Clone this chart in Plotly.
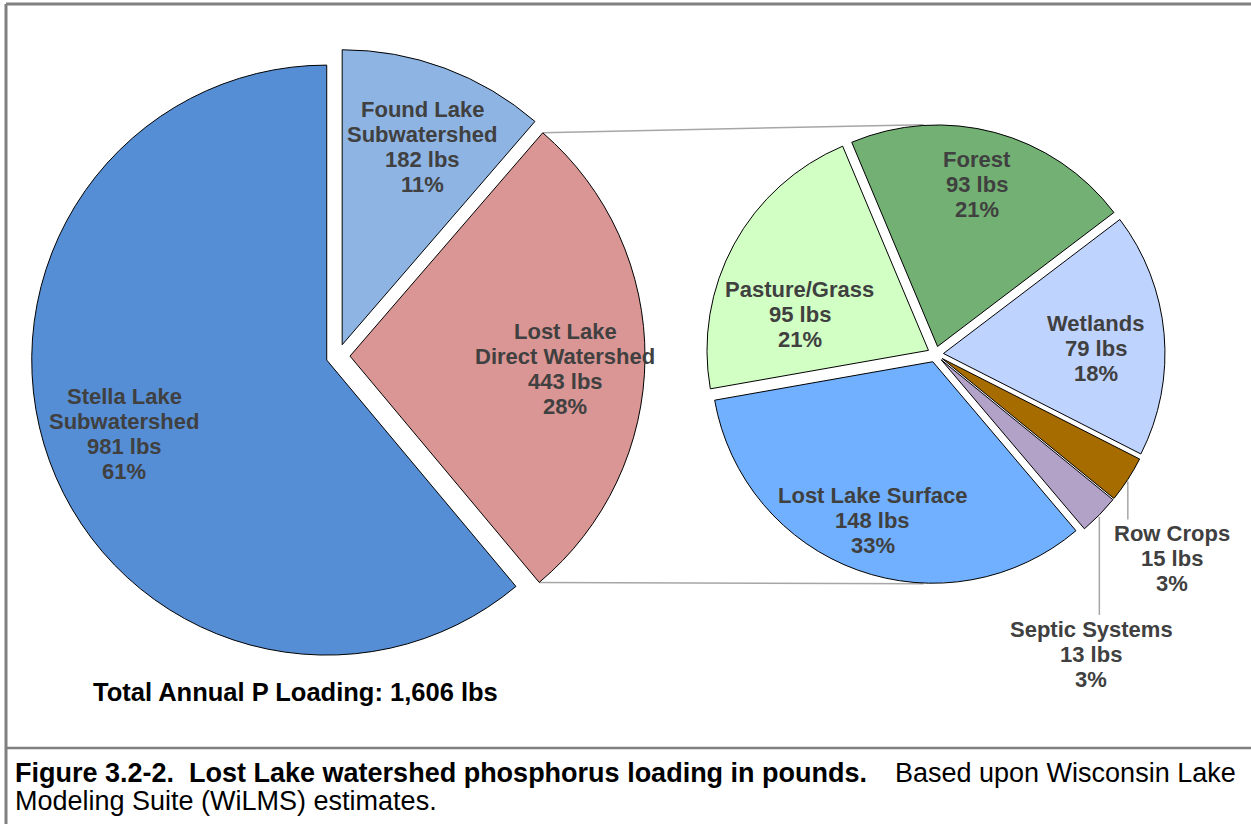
import math
import plotly.graph_objects as go

W, H = 1251, 824

# ---------------- data ----------------
main_names = ["Stella Lake Subwatershed", "Lost Lake Direct Watershed", "Found Lake Subwatershed"]
main_label_lines = [["Stella Lake", "Subwatershed"], ["Lost Lake", "Direct Watershed"], ["Found Lake", "Subwatershed"]]
main_lbs = [981, 443, 182]
main_pct = [61, 28, 11]

sub_names = ["Pasture/Grass", "Lost Lake Surface", "Septic Systems", "Row Crops", "Wetlands", "Forest"]
sub_lbs = [95, 148, 13, 15, 79, 93]
sub_pct = [21, 33, 3, 3, 18, 21]

caption_bold = "Figure 3.2-2.\u00a0\u00a0Lost Lake watershed phosphorus loading in pounds."
caption_rest1 = "Based upon Wisconsin Lake"
caption_line2 = "Modeling Suite (WiLMS) estimates."

# ---------------- style / layout ----------------
main_colors = ["#558ED5", "#D99694", "#8EB4E3"]
sub_colors = ["#D2FFC4", "#70B0FF", "#B3A2C7", "#A66C00", "#BFD3FF", "#72B073"]
FONT = "Liberation Sans, Arial, sans-serif"
LABEL_COLOR = "#404040"

# left pie geometry (pixels)
L_CX, L_CY, L_R, L_P = 338.0, 356.0, 295.0, 12.0
L_START = 90.0  # math degrees, counterclockwise
# right pie geometry (pixels)
R_CX, R_CY, R_R, R_P = 935.5, 354.2, 221.5, 8.0
R_START = 112.8

LINE_H = 25.0
LABEL_SIZE = 22


def px(x, y):
    return x / W, 1 - y / H


def domain(cx, cy, r, p):
    half = r + p
    return dict(x=[(cx - half) / W, (cx + half) / W], y=[1 - (cy + half) / H, 1 - (cy - half) / H])


def slice_angles(vals, start):
    tot = float(sum(vals))
    out = []
    a = start
    for v in vals:
        span = 360.0 * v / tot
        out.append((a, a + span))
        a += span
    return out


def plotly_rotation(vals, start):
    # plotly (counterclockwise) puts the first slice between rotation and rotation+span (clockwise from 12)
    first_span = 360.0 * vals[0] / float(sum(vals))
    return 90.0 - start - first_span


fig = go.Figure()
fig.add_trace(go.Pie(
    labels=main_names, values=main_lbs, sort=False, direction="counterclockwise",
    rotation=plotly_rotation(main_lbs, L_START), pull=L_P / L_R,
    marker=dict(colors=main_colors, line=dict(color="#000000", width=1)),
    textinfo="none", hoverinfo="skip", showlegend=False,
    domain=domain(L_CX, L_CY, L_R, L_P),
))
fig.add_trace(go.Pie(
    labels=sub_names, values=sub_lbs, sort=False, direction="counterclockwise",
    rotation=plotly_rotation(sub_lbs, R_START), pull=R_P / R_R,
    marker=dict(colors=sub_colors, line=dict(color="#000000", width=1)),
    textinfo="none", hoverinfo="skip", showlegend=False,
    domain=domain(R_CX, R_CY, R_R, R_P),
))

annotations = []
shapes = []


def add_label(lines, x, y, color=LABEL_COLOR, size=LABEL_SIZE, bold=True):
    n = len(lines)
    for i, t in enumerate(lines):
        ax, ay = px(x, y + (i - (n - 1) / 2.0) * LINE_H)
        annotations.append(dict(
            x=ax, y=ay, xref="paper", yref="paper", xanchor="center", yanchor="middle",
            text=("<b>%s</b>" % t) if bold else t, showarrow=False,
            font=dict(family=FONT, size=size, color=color)))


# labels of the left pie
main_ang = slice_angles(main_lbs, L_START)
main_k = [0.73, 0.73, 0.73]
main_nudge = [(0, 0), (0, 11), (5, 4)]
for (a0, a1), lines, lb, pc, k, (dx, dy) in zip(main_ang, main_label_lines, main_lbs, main_pct, main_k, main_nudge):
    m = math.radians((a0 + a1) / 2)
    x = L_CX + (L_P + k * L_R) * math.cos(m) + dx
    y = L_CY - (L_P + k * L_R) * math.sin(m) + dy
    add_label(lines + ["%d lbs" % lb, "%d%%" % pc], x, y)

# labels of the right pie
sub_ang = slice_angles(sub_lbs, R_START)
inside_k = {"Pasture/Grass": 0.62, "Lost Lake Surface": 0.76, "Wetlands": 0.69, "Forest": 0.75}
nudge = {"Pasture/Grass": (-8, 30), "Lost Lake Surface": (-3, 0), "Wetlands": (0, 9), "Forest": (-4, -1)}
outside = {"Row Crops": (44, 40, 14.5), "Septic Systems": (-8, 100, 15)}  # (dx, leader drop, gap)
for (a0, a1), name, lb, pc in zip(sub_ang, sub_names, sub_lbs, sub_pct):
    m = math.radians((a0 + a1) / 2)
    lines = [name, "%d lbs" % lb, "%d%%" % pc]
    if name in inside_k:
        k = inside_k[name]
        dx, dy = nudge[name]
        x = R_CX + (R_P + k * R_R) * math.cos(m) + dx
        y = R_CY - (R_P + k * R_R) * math.sin(m) + dy
        add_label(lines, x, y)
    else:
        dx, drop, gap = outside[name]
        sx = R_CX + (R_P + R_R) * math.cos(m)
        sy = R_CY - (R_P + R_R) * math.sin(m)
        ex, ey = px(sx, sy + drop)
        bx, by = px(sx, sy + 2)
        shapes.append(dict(type="line", xref="paper", yref="paper", x0=bx, y0=by, x1=ex, y1=ey,
                           line=dict(color="#A6A6A6", width=1.5)))
        add_label(lines, sx + dx, sy + drop + gap + LINE_H)

# connector lines between the pies (from Lost Lake Direct slice corners)
a0, a1 = main_ang[1]
mm = math.radians((a0 + a1) / 2)
ox = L_CX + L_P * math.cos(mm)
oy = L_CY - L_P * math.sin(mm)
for a, sign in ((a1, -1), (a0, 1)):
    cx = ox + L_R * math.cos(math.radians(a))
    cy = oy - L_R * math.sin(math.radians(a))
    tx = R_CX - 12
    ty = R_CY + sign * (R_R + R_P)
    x0, y0 = px(cx, cy)
    x1, y1 = px(tx, ty)
    shapes.append(dict(type="line", xref="paper", yref="paper", x0=x0, y0=y0, x1=x1, y1=y1,
                       line=dict(color="#A6A6A6", width=1.5), layer="below"))

# total
total = sum(main_lbs)
tx, ty = px(295, 692)
annotations.append(dict(x=tx, y=ty, xref="paper", yref="paper", xanchor="center", yanchor="middle",
                        text="<b>Total Annual P Loading: %s lbs</b>" % format(total, ","), showarrow=False,
                        font=dict(family=FONT, size=25.5, color="#000000")))

# caption
CAP = 27
cx0, cy1 = px(13, 773)
annotations.append(dict(x=cx0, y=cy1, xref="paper", yref="paper", xanchor="left", yanchor="middle",
                        text="<b>%s</b>" % caption_bold, showarrow=False,
                        font=dict(family=FONT, size=CAP, color="#000000")))
cx1, _ = px(1238, 773)
annotations.append(dict(x=cx1, y=cy1, xref="paper", yref="paper", xanchor="right", yanchor="middle",
                        text=caption_rest1, showarrow=False,
                        font=dict(family=FONT, size=CAP, color="#000000")))
_, cy2 = px(13, 801)
annotations.append(dict(x=cx0, y=cy2, xref="paper", yref="paper", xanchor="left", yanchor="middle",
                        text=caption_line2, showarrow=False,
                        font=dict(family=FONT, size=CAP, color="#000000")))

# frame
frame_c = "#808080"
for (x0, y0, x1, y1, w) in [(6, 4, 1251, 4, 3), (6, 4, 6, 824, 3), (6, 748, 1251, 748, 2.5)]:
    a, b = px(x0, y0)
    c, d = px(x1, y1)
    shapes.append(dict(type="line", xref="paper", yref="paper", x0=a, y0=b, x1=c, y1=d,
                       line=dict(color=frame_c, width=w)))

fig.update_layout(
    width=W, height=H, margin=dict(l=0, r=0, t=0, b=0),
    paper_bgcolor="white", plot_bgcolor="white",
    annotations=annotations, shapes=shapes, showlegend=False,
)

fig.write_html("out.html", config={"displayModeBar": False},
               post_script="document.body.style.margin='0';document.body.style.overflow='hidden';")
